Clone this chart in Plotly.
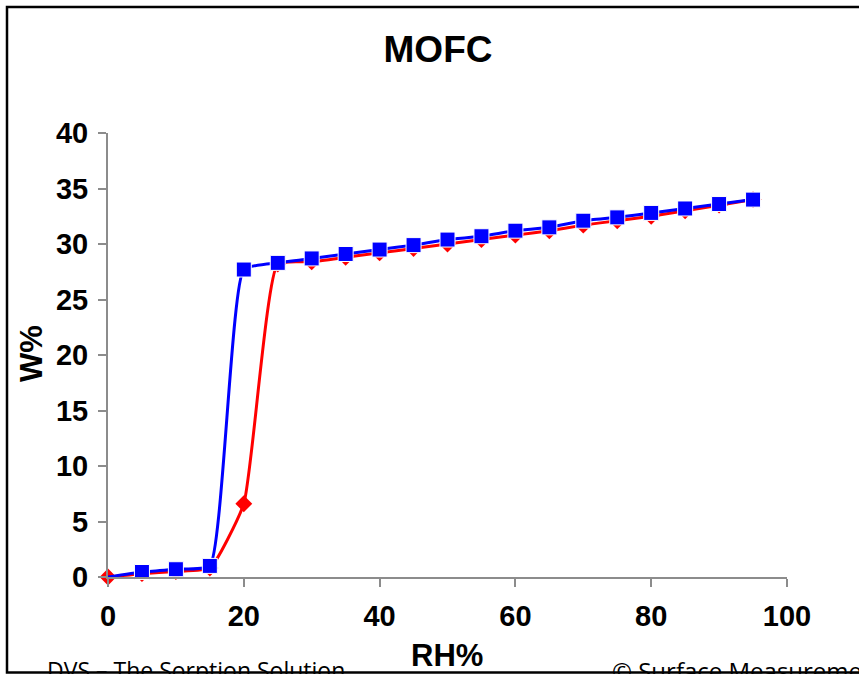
import plotly.graph_objects as go

# Relative humidity steps (%)
rh_sorption = [0, 5, 10, 15, 20, 25, 30, 35, 40, 45, 50, 55, 60, 65, 70, 75, 80, 85, 90, 95]
rh_desorption = [95, 90, 85, 80, 75, 70, 65, 60, 55, 50, 45, 40, 35, 30, 25, 20, 15, 10, 5, 0]

# Water uptake (% change in mass)
w_sorption = [0.0, 0.3, 0.5, 0.8, 6.6, 28.2, 28.4, 28.8, 29.2, 29.6,
              30.0, 30.4, 30.8, 31.2, 31.7, 32.1, 32.5, 33.0, 33.5, 34.0]
w_desorption = [34.0, 33.6, 33.2, 32.8, 32.4, 32.1, 31.5, 31.2, 30.7, 30.4,
                29.9, 29.5, 29.1, 28.7, 28.3, 27.7, 1.0, 0.7, 0.45, 0.0]

x_ticks = [0, 20, 40, 60, 80, 100]
y_ticks = [0, 5, 10, 15, 20, 25, 30, 35, 40]

W, H = 859, 674
L, R, T, B = 108, 787, 133, 577  # plot area in pixels


def px_x(p):
    return (p - L) / (R - L)


def px_y(p):
    return (B - p) / (B - T)


BOLD = "Liberation Sans, Arial, sans-serif"
FOOT = "Open Sans, Noto Sans, sans-serif"
SMOOTH = 0.45

fig = go.Figure()

fig.add_trace(go.Scatter(
    x=rh_sorption, y=w_sorption, mode="lines+markers", cliponaxis=False,
    line=dict(color="#FF0000", width=3, shape="spline", smoothing=SMOOTH),
    marker=dict(symbol="diamond", size=13, color="#FF0000", opacity=1),
    name="Sorption", hoverinfo="skip",
))

# last desorption point carries no marker
desorp_sizes = [15] * (len(rh_desorption) - 1) + [0]
fig.add_trace(go.Scatter(
    x=rh_desorption, y=w_desorption, mode="lines+markers", cliponaxis=False,
    line=dict(color="#0000FF", width=3, shape="spline", smoothing=SMOOTH),
    marker=dict(symbol="square", size=desorp_sizes, color="#0000FF", opacity=1),
    name="Desorption", hoverinfo="skip",
))

axis_common = dict(
    showgrid=False, zeroline=False, showline=True,
    linecolor="#8C8C8C", linewidth=2,
    ticks="outside", ticklen=8, tickwidth=2, tickcolor="#8C8C8C",
    tickfont=dict(family=BOLD, size=29, color="black", weight="bold"),
)

fig.update_layout(
    width=W, height=H,
    margin=dict(l=L, r=W - R, t=T, b=H - B, autoexpand=False),
    paper_bgcolor="white", plot_bgcolor="white",
    showlegend=False,
    title=dict(
        text="<b>MOFC</b>", xref="container", yref="container",
        x=438 / W, y=1 - 49 / H, xanchor="center", yanchor="middle",
        font=dict(family=BOLD, size=37, color="black"),
    ),
    xaxis=dict(range=[0, 100], tickvals=x_ticks, ticklabelstandoff=4, **axis_common),
    yaxis=dict(range=[0, 40], tickvals=y_ticks, ticklabelstandoff=4, **axis_common),
)

annotations = [
    dict(text="<b>RH%</b>", x=px_x(447), y=px_y(655), xanchor="center", yanchor="middle",
         font=dict(family=BOLD, size=31, color="black")),
    dict(text="<b>W%</b>", x=px_x(31), y=px_y(354), xanchor="center", yanchor="middle",
         textangle=-90, font=dict(family=BOLD, size=31, color="black")),
    dict(text="DVS – The Sorption Solution", x=px_x(45), y=px_y(652), xanchor="left", yanchor="top",
         font=dict(family=FOOT, size=23, color="black")),
    dict(text="© Surface Measurement Systems", x=px_x(610), y=px_y(652), xanchor="left", yanchor="top",
         font=dict(family=FOOT, size=24, color="black")),
]
for a in annotations:
    a.update(xref="paper", yref="paper", showarrow=False)
fig.update_layout(annotations=annotations)

# chart frame
fig.add_shape(type="rect", xref="paper", yref="paper",
              x0=px_x(7), x1=px_x(900), y0=px_y(672.5), y1=px_y(7),
              line=dict(color="black", width=2.5), fillcolor="rgba(0,0,0,0)", layer="below")

fig.write_html("out.html")
